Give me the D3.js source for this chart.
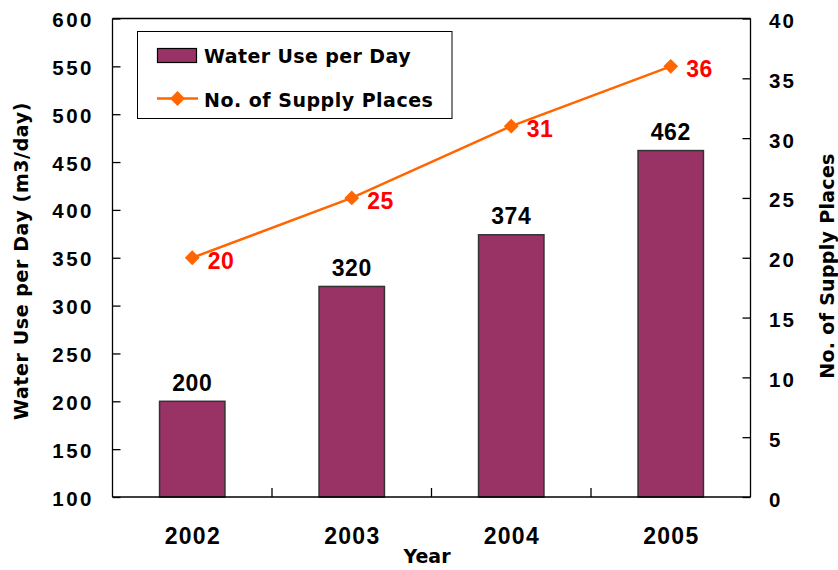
<!DOCTYPE html>
<html><head><meta charset="utf-8">
<script src="https://cdn.jsdelivr.net/npm/d3@7"></script>
<style>body{margin:0;background:#fff}</style>
</head><body>
<svg id="c" width="838" height="570"></svg>
<script>
const years = ["2002","2003","2004","2005"];
const waterUse = [200,320,374,462];
const supplyPlaces = [20,25,31,36];
const leftTicks = [100,150,200,250,300,350,400,450,500,550,600];
const rightTicks = [0,5,10,15,20,25,30,35,40];
const seriesNames = ["Water Use per Day","No. of Supply Places"];

const svg = d3.select("#c");
const L=112.5, R=750.5, T=18.5, B=497;
const digitFont = "'Liberation Sans', Arial, sans-serif";
const textFont = "'DejaVu Sans', sans-serif";
const barColor = "#993366", lineColor = "#FF6600";

const x = d3.scaleBand().domain(years).range([L,R]).paddingInner(0).paddingOuter(0);
const yL = d3.scaleLinear().domain([100,600]).range([B,T]);
const yR = d3.scaleLinear().domain([0,40]).range([B,T]);
const bw = x.bandwidth()*0.41;

// bars
svg.selectAll("rect.bar").data(years).join("rect")
  .attr("x",d=>x(d)+x.bandwidth()/2-bw/2)
  .attr("y",(d,i)=>yL(waterUse[i]))
  .attr("width",bw)
  .attr("height",(d,i)=>B-yL(waterUse[i]))
  .attr("fill",barColor).attr("stroke","#333").attr("stroke-width",1.5);

// bar labels
svg.selectAll("text.bl").data(years).join("text")
  .attr("x",d=>x(d)+x.bandwidth()/2)
  .attr("y",(d,i)=>yL(waterUse[i])-10.5)
  .attr("text-anchor","middle")
  .style("font-family",digitFont).style("font-weight","bold").style("font-size","23px")
  .style("letter-spacing","0.5px")
  .text((d,i)=>waterUse[i]);

// axes frame
const gL = svg.append("g").attr("transform",`translate(${L},0)`)
  .call(d3.axisLeft(yL).tickValues(leftTicks).tickSize(-8).tickPadding(0).tickFormat(""));
const gR = svg.append("g").attr("transform",`translate(${R},0)`)
  .call(d3.axisRight(yR).tickValues(rightTicks).tickSize(-8).tickFormat(""));
const gB = svg.append("g").attr("transform",`translate(0,${B})`)
  .call(d3.axisBottom(x).tickSize(0).tickFormat(""));
[gL,gR,gB].forEach(g=>{g.selectAll("path,line").attr("stroke","#000").attr("stroke-width",1.3);});
gL.select(".domain").attr("d",`M0,${T}V${B}`);
gR.select(".domain").attr("d",`M0,${T}V${B}`);
gB.select(".domain").attr("d",`M${L},0H${R}`);
svg.append("line").attr("x1",L).attr("x2",R).attr("y1",T).attr("y2",T).attr("stroke","#000").attr("stroke-width",1.3);
// category separator ticks
const seps = years.slice(1);
svg.selectAll("line.sep").data(seps).join("line")
  .attr("x1",d=>x(d)).attr("x2",d=>x(d)).attr("y1",B).attr("y2",B-9)
  .attr("stroke","#000").attr("stroke-width",1.3);

// tick labels
svg.selectAll("text.lt").data(leftTicks).join("text")
  .attr("x",94).attr("y",d=>yL(d)+8.5).attr("text-anchor","end")
  .style("font-family",digitFont).style("font-weight","bold").style("font-size","20.5px")
  .style("letter-spacing","2.5px").text(d=>d);
svg.selectAll("text.rt").data(rightTicks).join("text")
  .attr("x",769).attr("y",d=>yR(d)+9.5).attr("text-anchor","start")
  .style("font-family",digitFont).style("font-weight","bold").style("font-size","20.5px")
  .style("letter-spacing","2px").text(d=>d);
svg.selectAll("text.xt").data(years).join("text")
  .attr("x",d=>x(d)+x.bandwidth()/2+0.6).attr("y",544).attr("text-anchor","middle")
  .style("font-family",digitFont).style("font-weight","bold").style("font-size","23px")
  .style("letter-spacing","1.3px").text(d=>d);

// axis titles
svg.append("text").attr("x",427).attr("y",563).attr("text-anchor","middle")
  .style("font-family",textFont).style("font-weight","bold").style("font-size","19px").text("Year");
svg.append("text").attr("transform",`translate(28,261) rotate(-90)`).attr("text-anchor","middle")
  .style("font-family",textFont).style("font-weight","bold").style("font-size","19px")
  .style("letter-spacing","0.6px").text("Water Use per Day (m3/day)");
svg.append("text").attr("transform",`translate(834,266) rotate(-90)`).attr("text-anchor","middle")
  .style("font-family",textFont).style("font-weight","bold").style("font-size","19px")
  .style("letter-spacing","0.3px")
  .text("No. of Supply Places");

// line
const line = d3.line().x((d,i)=>x(years[i])+x.bandwidth()/2).y(d=>yR(d));
svg.append("path").datum(supplyPlaces).attr("d",line)
  .attr("fill","none").attr("stroke",lineColor).attr("stroke-width",2.5);
const diamond = d3.symbol().type(d3.symbolSquare).size(110);
svg.selectAll("path.pt").data(supplyPlaces).join("path")
  .attr("d",diamond())
  .attr("transform",(d,i)=>`translate(${x(years[i])+x.bandwidth()/2},${yR(d)}) rotate(45)`)
  .attr("fill",lineColor);
svg.selectAll("text.pl").data(supplyPlaces).join("text")
  .attr("x",(d,i)=>x(years[i])+x.bandwidth()/2+15.5).attr("y",d=>yR(d)+11)
  .style("font-family",digitFont).style("font-weight","bold").style("font-size","23px")
  .style("letter-spacing","0.5px")
  .attr("fill","#FF0000").text(d=>d);

// legend
const lg = svg.append("g");
lg.append("rect").attr("x",137.5).attr("y",31.5).attr("width",314.5).attr("height",87)
  .attr("fill","#fff").attr("stroke","#000").attr("stroke-width",1);
lg.append("rect").attr("x",157.5).attr("y",48.5).attr("width",39).attr("height",14)
  .attr("fill",barColor).attr("stroke","#000").attr("stroke-width",1.2);
lg.append("line").attr("x1",157).attr("x2",198).attr("y1",98.5).attr("y2",98.5)
  .attr("stroke",lineColor).attr("stroke-width",2.5);
lg.append("path").attr("d",diamond()).attr("transform","translate(177.5,98.5) rotate(45)").attr("fill",lineColor);
lg.selectAll("text").data(seriesNames).join("text")
  .attr("x",204).attr("y",(d,i)=>63+i*43.5)
  .style("font-family",textFont).style("font-weight","bold").style("font-size","19px")
  .style("letter-spacing",(d,i)=>i===0?"0.4px":"0.5px").text(d=>d);
</script>
</body></html>
